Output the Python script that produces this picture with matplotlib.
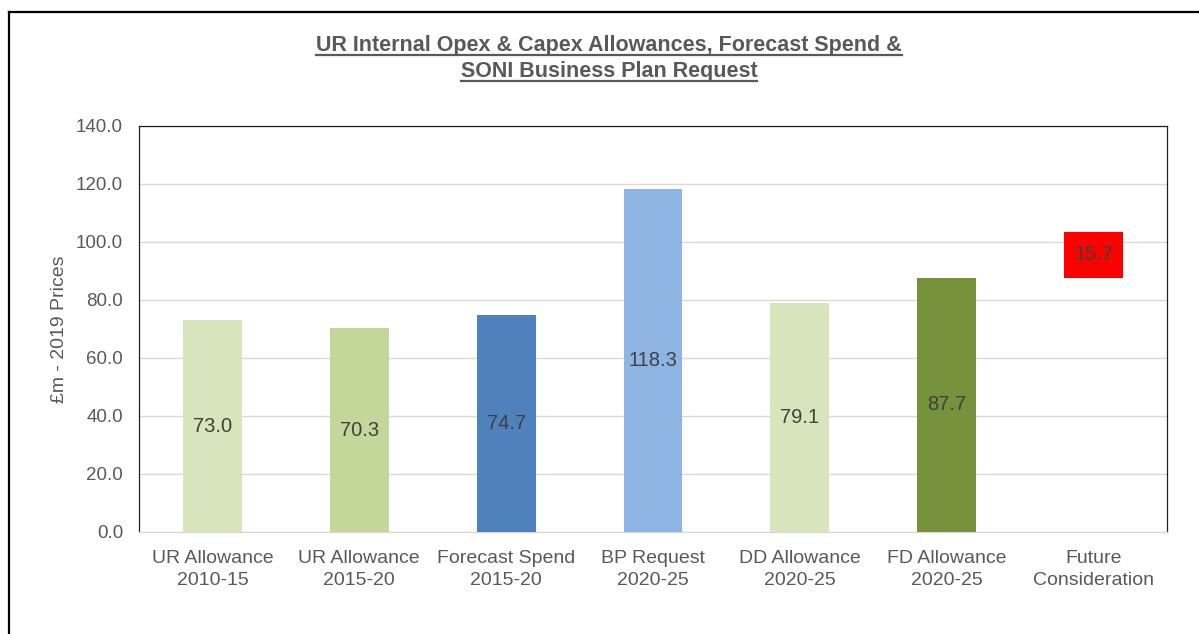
import matplotlib
matplotlib.use("Agg")
import matplotlib.pyplot as plt
from matplotlib.lines import Line2D

plt.rcParams['font.family'] = ['Liberation Sans', 'DejaVu Sans']

categories = ["UR Allowance\n2010-15", "UR Allowance\n2015-20", "Forecast Spend\n2015-20",
              "BP Request\n2020-25", "DD Allowance\n2020-25", "FD Allowance\n2020-25",
              "Future\nConsideration"]
values = [73.0, 70.3, 74.7, 118.3, 79.1, 87.7, 15.7]
bottoms = [0, 0, 0, 0, 0, 0, 87.7]
colors = ["#D8E4BC", "#C4D79B", "#4F81BD", "#8DB4E2", "#D8E4BC", "#76933C", "#FF0000"]
yticks = [0, 20, 40, 60, 80, 100, 120, 140]

W, H = 1199, 634
fig = plt.figure(figsize=(W / 100, H / 100), dpi=100)
ax = fig.add_axes([139 / W, 1 - 532 / H, (1167 - 139) / W, (532 - 126) / H])

x = list(range(len(categories)))
ax.bar(x, values, bottom=bottoms, width=0.4, color=colors, zorder=3)
for xi, v, b in zip(x, values, bottoms):
    ax.text(xi, b + v / 2, f"{v:.1f}", ha="center", va="center",
            fontsize=14.5, color="#404040", zorder=4)

ax.set_xlim(-0.5, len(categories) - 0.5)
ax.set_ylim(0, 140)
ax.set_yticks(yticks)
ax.set_yticklabels([f"{t:.1f}" for t in yticks])
ax.set_xticks(x)
ax.set_xticklabels(categories, linespacing=1.4)
ax.tick_params(axis="x", length=0, labelsize=14, colors="#595959", pad=13)
ax.tick_params(axis="y", length=0, labelsize=13.5, colors="#595959", pad=11.5)
ax.grid(axis="y", color="#D9D9D9", linewidth=1, zorder=0)
for s in ["left", "top", "right"]:
    ax.spines[s].set_color("#202020")
    ax.spines[s].set_linewidth(0.9)
ax.spines["bottom"].set_color("#D9D9D9")
ax.spines["bottom"].set_linewidth(1)

ax.set_ylabel("£m - 2019 Prices", fontsize=14, color="#595959", labelpad=6)

t1 = fig.text(609 / W, 1 - 45 / H, "UR Internal Opex & Capex Allowances, Forecast Spend &",
              ha="center", va="center", fontsize=15.5, fontweight="bold", color="#595959")
t2 = fig.text(609 / W, 1 - 71 / H, "SONI Business Plan Request",
              ha="center", va="center", fontsize=15.5, fontweight="bold", color="#595959")

fig.canvas.draw()
r = fig.canvas.get_renderer()
for t in (t1, t2):
    bb = t.get_window_extent(renderer=r)
    yl = bb.y0 + 1
    fig.add_artist(Line2D([bb.x0 / W, bb.x1 / W], [yl / H, yl / H],
                          transform=fig.transFigure, color="#595959", linewidth=1.6))

# outer frame
fig.add_artist(Line2D([9 / W, 9 / W], [0, 1 - 12 / H], transform=fig.transFigure,
                      color="black", linewidth=1.6))
fig.add_artist(Line2D([9 / W, 1], [1 - 12 / H, 1 - 12 / H], transform=fig.transFigure,
                      color="black", linewidth=1.6))

fig.savefig("out.png", dpi=100)
